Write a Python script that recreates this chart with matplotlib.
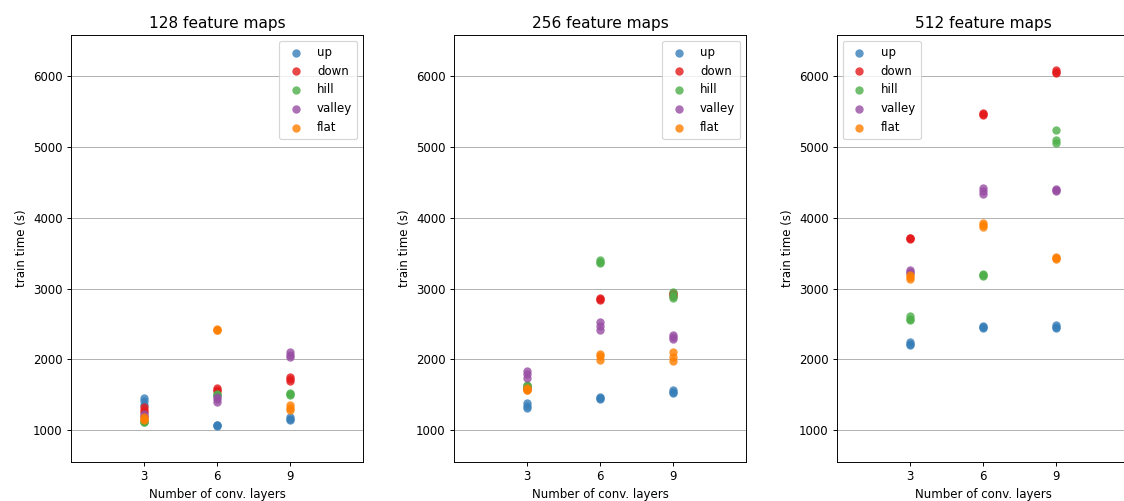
import matplotlib
matplotlib.use("Agg")
import matplotlib.pyplot as plt
import numpy as np

# numero de capas conv. en el eje x
layers = [3, 6, 9]
labels = ["up", "down", "hill", "valley", "flat"]
colores = ["#377eb8", "#e41a1c", "#4daf4a", "#984ea3", "#ff7f00"]
titulos = ["128 feature maps", "256 feature maps", "512 feature maps"]

# tiempos de entrenamiento (s), 3 corridas por cada numero de capas
up_128 = [[1460, 1410, 1360], [1070, 1065, 1075], [1190, 1160, 1150]]
down_128 = [[1320, 1280, 1250], [1600, 1570, 1550], [1750, 1720, 1690]]
hill_128 = [[1110, 1120, 1130], [1500, 1490, 1510], [1520, 1510, 1500]]
valley_128 = [[1200, 1180, 1230], [1470, 1440, 1400], [2100, 2060, 2030]]
flat_128 = [[1190, 1160, 1140], [2420, 2410, 2430], [1350, 1310, 1280]]

up_256 = [[1390, 1340, 1310], [1470, 1450, 1440], [1570, 1540, 1520]]
down_256 = [[1620, 1600, 1580], [2860, 2850, 2840], [2940, 2920, 2900]]
hill_256 = [[1640, 1620, 1600], [3400, 3370, 3360], [2950, 2900, 2870]]
valley_256 = [[1840, 1790, 1730], [2530, 2470, 2420], [2340, 2310, 2290]]
flat_256 = [[1590, 1570, 1560], [2080, 2040, 1990], [2100, 2030, 1970]]

up_512 = [[2250, 2220, 2200], [2470, 2450, 2440], [2490, 2460, 2440]]
down_512 = [[3720, 3710, 3700], [5480, 5460, 5450], [6080, 6060, 6040]]
hill_512 = [[2610, 2570, 2550], [3200, 3190, 3180], [5240, 5100, 5050]]
valley_512 = [[3260, 3240, 3220], [4420, 4380, 4340], [4400, 4390, 4380]]
flat_512 = [[3190, 3160, 3130], [3930, 3900, 3870], [3450, 3430, 3410]]

paneles = [
    [up_128, down_128, hill_128, valley_128, flat_128],
    [up_256, down_256, hill_256, valley_256, flat_256],
    [up_512, down_512, hill_512, valley_512, flat_512],
]
ubic_leyenda = ["upper right", "upper right", "upper left"]

dpi = 85
fig = plt.figure(figsize=(1124 / dpi, 501 / dpi), dpi=dpi)

lefts = [71, 454, 837]
for k in range(3):
    ax = fig.add_axes([lefts[k] / 1124, 39 / 501, 292 / 1124, 427 / 501])
    for serie, lab, col in zip(paneles[k], labels, colores):
        xs = np.repeat(layers, [len(v) for v in serie])
        ys = np.concatenate(serie)
        ax.scatter(xs, ys, s=50, color=col, alpha=0.8, label=lab, linewidths=0)
    ax.set_xlim(0, 12)
    ax.set_ylim(550, 6580)
    ax.set_xticks(layers)
    ax.set_yticks([1000, 2000, 3000, 4000, 5000, 6000])
    ax.grid(axis="y", color="#b0b0b0", linewidth=0.8)
    ax.set_axisbelow(True)
    ax.set_title(titulos[k], fontsize=13)
    ax.set_xlabel("Number of conv. layers")
    ax.set_ylabel("train time (s)")
    ax.legend(loc=ubic_leyenda[k])

fig.savefig("out.png", dpi=dpi)
